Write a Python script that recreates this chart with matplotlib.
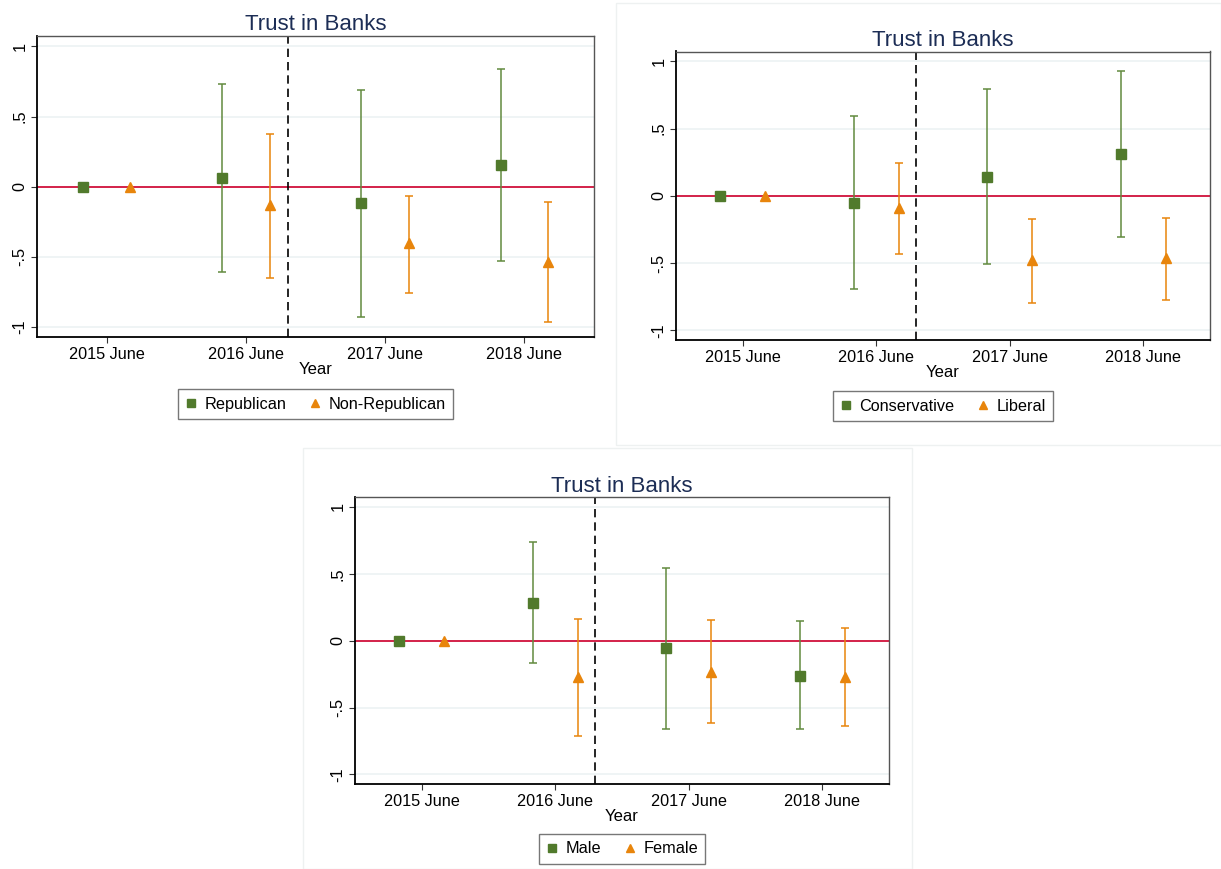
import matplotlib
matplotlib.use('Agg')
import matplotlib.pyplot as plt
from matplotlib.patches import Rectangle
import numpy as np

plt.rcParams['font.family'] = ['Liberation Sans', 'DejaVu Sans']

# survey waves
periods = ['2015 June', '2016 June', '2017 June', '2018 June']
election_pos = 1.3   # dashed line, between 2016 and 2017 waves

# panel 1: party
rep_est = [0, 0.062, -0.119, 0.155]
rep_lo = [0, -0.61, -0.93, -0.53]
rep_hi = [0, 0.73, 0.69, 0.84]
nonrep_est = [0, -0.13, -0.405, -0.536]
nonrep_lo = [0, -0.648, -0.758, -0.963]
nonrep_hi = [0, 0.372, -0.064, -0.112]

# panel 2: ideology
cons_est = [0, -0.052, 0.141, 0.31]
cons_lo = [0, -0.695, -0.509, -0.308]
cons_hi = [0, 0.593, 0.797, 0.93]
lib_est = [0, -0.087, -0.476, -0.464]
lib_lo = [0, -0.43, -0.794, -0.772]
lib_hi = [0, 0.248, -0.171, -0.164]

# panel 3: gender
male_est = [0, 0.279, -0.057, -0.261]
male_lo = [0, -0.169, -0.662, -0.662]
male_hi = [0, 0.734, 0.542, 0.144]
female_est = [0, -0.271, -0.231, -0.269]
female_lo = [0, -0.711, -0.619, -0.637]
female_hi = [0, 0.159, 0.154, 0.095]

green = '#517a2c'
green_bar = '#628a3e'
orange = '#e8850c'
red = '#d0103a'
navy = '#1c2d55'

W, H = 1221, 869
fig = plt.figure(figsize=(W / 100, H / 100), dpi=100)


def px_rect(left, top, right, bottom):
    return [left / W, 1 - bottom / H, (right - left) / W, (bottom - top) / H]


def draw_panel(ax, est1, lo1, hi1, lab1, est2, lo2, hi2, lab2, title_pad, leg_y):
    x = np.arange(len(periods))
    off = 0.17
    ax.set_xlim(-0.5, 3.5)
    ax.set_ylim(-1.072, 1.074)

    for yv in [-1, -0.5, 0.5, 1]:
        ax.axhline(yv, color='#eef3f5', lw=1.3, zorder=0)
    ax.axhline(0, color=red, lw=1.3, zorder=1)
    ax.axvline(election_pos, color='black', lw=1.2, ls=(0, (5, 3)), zorder=1)

    est1, lo1, hi1 = map(np.array, (est1, lo1, hi1))
    est2, lo2, hi2 = map(np.array, (est2, lo2, hi2))
    # base wave has no interval
    ax.errorbar(x[1:] - off, est1[1:], yerr=[est1[1:] - lo1[1:], hi1[1:] - est1[1:]],
                fmt='none', ecolor=green_bar, elinewidth=1.1, capsize=3, capthick=1.1, zorder=2)
    ax.errorbar(x[1:] + off, est2[1:], yerr=[est2[1:] - lo2[1:], hi2[1:] - est2[1:]],
                fmt='none', ecolor=orange, elinewidth=1.1, capsize=3, capthick=1.1, zorder=2)
    ax.plot(x - off, est1, 's', color=green, ms=7, ls='none', label=lab1, zorder=3)
    ax.plot(x + off, est2, '^', color=orange, ms=7, ls='none', label=lab2, zorder=3)

    ax.set_xticks(x)
    ax.set_xticklabels(periods, fontsize=11.7)
    ax.set_yticks([1, 0.5, 0, -0.5, -1])
    ax.set_yticklabels(['1', '.5', '0', '-.5', '-1'], fontsize=11.7, rotation=90, va='center')
    ax.tick_params(axis='both', length=4, width=0.8, color='#333333')
    ax.tick_params(axis='x', pad=3)
    ax.tick_params(axis='y', pad=3)
    ax.set_xlabel('Year', fontsize=12, labelpad=0)
    ax.set_title('Trust in Banks', fontsize=16, color=navy, pad=title_pad)

    for side in ['top', 'right']:
        ax.spines[side].set_color('#555555')
        ax.spines[side].set_linewidth(1.0)
    for side in ['left', 'bottom']:
        ax.spines[side].set_color('black')
        ax.spines[side].set_linewidth(1.3)

    leg = ax.legend(loc='center', bbox_to_anchor=(0.5, leg_y), ncol=2, fontsize=11.7,
                    frameon=True, fancybox=False, handlelength=0.7, handletextpad=0.5,
                    columnspacing=1.4, markerscale=0.8, borderpad=0.45, borderaxespad=0)
    leg.get_frame().set_edgecolor('#555555')
    leg.get_frame().set_linewidth(1.0)


ax1 = fig.add_axes(px_rect(37, 36, 594, 337))
draw_panel(ax1, rep_est, rep_lo, rep_hi, 'Republican',
           nonrep_est, nonrep_lo, nonrep_hi, 'Non-Republican', 4, -0.223)

ax2 = fig.add_axes(px_rect(676, 51.5, 1210, 340))
draw_panel(ax2, cons_est, cons_lo, cons_hi, 'Conservative',
           lib_est, lib_lo, lib_hi, 'Liberal', 3, -0.229)

ax3 = fig.add_axes(px_rect(355, 497, 889, 784))
draw_panel(ax3, male_est, male_lo, male_hi, 'Male',
           female_est, female_lo, female_hi, 'Female', 3, -0.226)

# faint frames of the pasted panels
fig.add_artist(Rectangle((616 / W, 1 - 445 / H), (W - 616) / W, (445 - 3) / H,
                         transform=fig.transFigure, fill=False, edgecolor='#eef1f1', lw=1))
fig.add_artist(Rectangle((303 / W, 0), (912 - 303) / W, (869 - 448) / H,
                         transform=fig.transFigure, fill=False, edgecolor='#eef1f1', lw=1))

fig.savefig('out.png', dpi=100)
